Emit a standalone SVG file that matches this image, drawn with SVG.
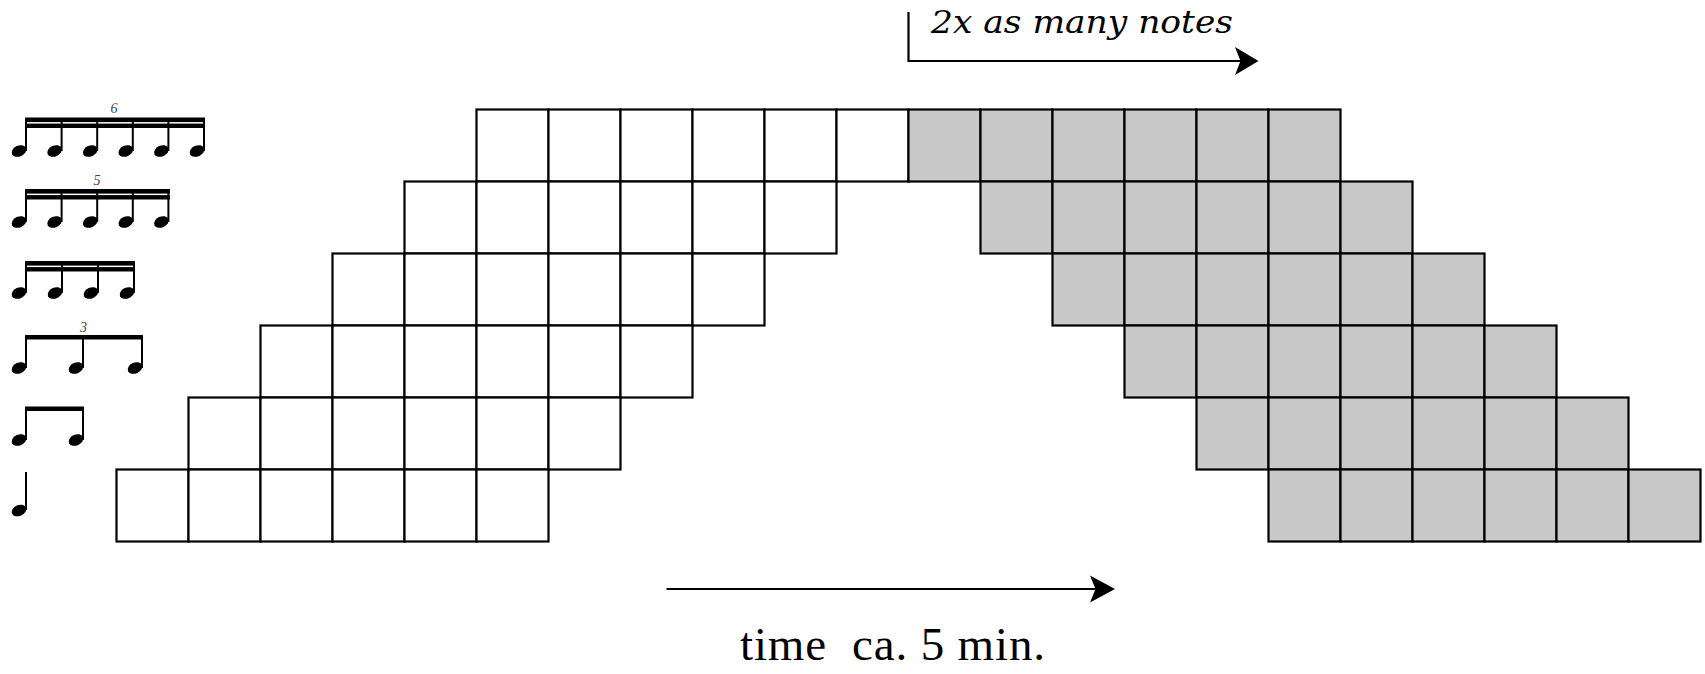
<svg xmlns="http://www.w3.org/2000/svg" width="1705" height="674" viewBox="0 0 1705 674">
<style>
.w{fill:#ffffff;stroke:#000;stroke-width:2.2}
.g{fill:#c8c8c8;stroke:#000;stroke-width:2.2}
.st{stroke:#000;stroke-width:2;fill:none}
.bm{fill:#000}
.hd{fill:#000}
.num{font-family:'Liberation Serif','Times New Roman',serif;font-style:italic;font-size:14px;fill:#444;text-anchor:middle}
.ln{stroke:#000;stroke-width:2.2;fill:none}
.ah{fill:#000}
.lbl{font-family:'Liberation Serif','Times New Roman',serif;fill:#000}
.lbi{font-family:'DejaVu Serif','Liberation Serif',serif;font-style:italic;fill:#000}
</style>
<defs>
<ellipse id="h" rx="7.6" ry="5.4" transform="rotate(-25)"/>
</defs>
<rect width="1705" height="674" fill="#fff"/>

<g id="note-sextuplet">
<rect class="bm" x="25" y="117.5" width="180" height="4.6"/>
<rect class="bm" x="25" y="123.6" width="180" height="4.4"/>
<path class="st" d="M26 118V151M61.6 118V151M97.2 118V151M132.8 118V151M168.4 118V151M204 118V151"/>
<g class="hd"><use href="#h" x="19" y="151"/><use href="#h" x="54.6" y="151"/><use href="#h" x="90.2" y="151"/><use href="#h" x="125.8" y="151"/><use href="#h" x="161.4" y="151"/><use href="#h" x="197" y="151"/></g>
<text class="num" x="114" y="113">6</text>
</g>

<g id="note-quintuplet">
<rect class="bm" x="25" y="189" width="145" height="4.6"/>
<rect class="bm" x="25" y="195.1" width="145" height="4.4"/>
<path class="st" d="M26 189.5V222M61.6 189.5V222M97.2 189.5V222M132.8 189.5V222M168.4 189.5V222"/>
<g class="hd"><use href="#h" x="19" y="222"/><use href="#h" x="54.6" y="222"/><use href="#h" x="90.2" y="222"/><use href="#h" x="125.8" y="222"/><use href="#h" x="161.4" y="222"/></g>
<text class="num" x="97" y="185">5</text>
</g>

<g id="note-sixteenths">
<rect class="bm" x="25" y="261" width="110" height="4.6"/>
<rect class="bm" x="25" y="267.1" width="110" height="4.4"/>
<path class="st" d="M26 261.5V293M62 261.5V293M98 261.5V293M134 261.5V293"/>
<g class="hd"><use href="#h" x="19" y="293"/><use href="#h" x="55" y="293"/><use href="#h" x="91" y="293"/><use href="#h" x="127" y="293"/></g>
</g>

<g id="note-triplet">
<rect class="bm" x="25" y="335" width="118" height="4.5"/>
<path class="st" d="M26 335.5V368M83 335.5V368M142 335.5V368"/>
<g class="hd"><use href="#h" x="19" y="368"/><use href="#h" x="76" y="368"/><use href="#h" x="135" y="368"/></g>
<text class="num" x="83.5" y="331.5">3</text>
</g>

<g id="note-eighths">
<rect class="bm" x="25" y="406.5" width="59" height="4.5"/>
<path class="st" d="M26 407V440M83 407V440"/>
<g class="hd"><use href="#h" x="19" y="440"/><use href="#h" x="76" y="440"/></g>
</g>

<g id="note-quarter">
<path class="st" d="M26 472V510"/>
<use class="hd" href="#h" x="19" y="510.5"/>
</g>

<g id="row-6">
<rect class="w" x="476.5" y="109.5" width="72" height="72"/><rect class="w" x="548.5" y="109.5" width="72" height="72"/><rect class="w" x="620.5" y="109.5" width="72" height="72"/><rect class="w" x="692.5" y="109.5" width="72" height="72"/><rect class="w" x="764.5" y="109.5" width="72" height="72"/><rect class="w" x="836.5" y="109.5" width="72" height="72"/>
<rect class="g" x="908.5" y="109.5" width="72" height="72"/><rect class="g" x="980.5" y="109.5" width="72" height="72"/><rect class="g" x="1052.5" y="109.5" width="72" height="72"/><rect class="g" x="1124.5" y="109.5" width="72" height="72"/><rect class="g" x="1196.5" y="109.5" width="72" height="72"/><rect class="g" x="1268.5" y="109.5" width="72" height="72"/>
</g>
<g id="row-5">
<rect class="w" x="404.5" y="181.5" width="72" height="72"/><rect class="w" x="476.5" y="181.5" width="72" height="72"/><rect class="w" x="548.5" y="181.5" width="72" height="72"/><rect class="w" x="620.5" y="181.5" width="72" height="72"/><rect class="w" x="692.5" y="181.5" width="72" height="72"/><rect class="w" x="764.5" y="181.5" width="72" height="72"/>
<rect class="g" x="980.5" y="181.5" width="72" height="72"/><rect class="g" x="1052.5" y="181.5" width="72" height="72"/><rect class="g" x="1124.5" y="181.5" width="72" height="72"/><rect class="g" x="1196.5" y="181.5" width="72" height="72"/><rect class="g" x="1268.5" y="181.5" width="72" height="72"/><rect class="g" x="1340.5" y="181.5" width="72" height="72"/>
</g>
<g id="row-4">
<rect class="w" x="332.5" y="253.5" width="72" height="72"/><rect class="w" x="404.5" y="253.5" width="72" height="72"/><rect class="w" x="476.5" y="253.5" width="72" height="72"/><rect class="w" x="548.5" y="253.5" width="72" height="72"/><rect class="w" x="620.5" y="253.5" width="72" height="72"/><rect class="w" x="692.5" y="253.5" width="72" height="72"/>
<rect class="g" x="1052.5" y="253.5" width="72" height="72"/><rect class="g" x="1124.5" y="253.5" width="72" height="72"/><rect class="g" x="1196.5" y="253.5" width="72" height="72"/><rect class="g" x="1268.5" y="253.5" width="72" height="72"/><rect class="g" x="1340.5" y="253.5" width="72" height="72"/><rect class="g" x="1412.5" y="253.5" width="72" height="72"/>
</g>
<g id="row-3">
<rect class="w" x="260.5" y="325.5" width="72" height="72"/><rect class="w" x="332.5" y="325.5" width="72" height="72"/><rect class="w" x="404.5" y="325.5" width="72" height="72"/><rect class="w" x="476.5" y="325.5" width="72" height="72"/><rect class="w" x="548.5" y="325.5" width="72" height="72"/><rect class="w" x="620.5" y="325.5" width="72" height="72"/>
<rect class="g" x="1124.5" y="325.5" width="72" height="72"/><rect class="g" x="1196.5" y="325.5" width="72" height="72"/><rect class="g" x="1268.5" y="325.5" width="72" height="72"/><rect class="g" x="1340.5" y="325.5" width="72" height="72"/><rect class="g" x="1412.5" y="325.5" width="72" height="72"/><rect class="g" x="1484.5" y="325.5" width="72" height="72"/>
</g>
<g id="row-2">
<rect class="w" x="188.5" y="397.5" width="72" height="72"/><rect class="w" x="260.5" y="397.5" width="72" height="72"/><rect class="w" x="332.5" y="397.5" width="72" height="72"/><rect class="w" x="404.5" y="397.5" width="72" height="72"/><rect class="w" x="476.5" y="397.5" width="72" height="72"/><rect class="w" x="548.5" y="397.5" width="72" height="72"/>
<rect class="g" x="1196.5" y="397.5" width="72" height="72"/><rect class="g" x="1268.5" y="397.5" width="72" height="72"/><rect class="g" x="1340.5" y="397.5" width="72" height="72"/><rect class="g" x="1412.5" y="397.5" width="72" height="72"/><rect class="g" x="1484.5" y="397.5" width="72" height="72"/><rect class="g" x="1556.5" y="397.5" width="72" height="72"/>
</g>
<g id="row-1">
<rect class="w" x="116.5" y="469.5" width="72" height="72"/><rect class="w" x="188.5" y="469.5" width="72" height="72"/><rect class="w" x="260.5" y="469.5" width="72" height="72"/><rect class="w" x="332.5" y="469.5" width="72" height="72"/><rect class="w" x="404.5" y="469.5" width="72" height="72"/><rect class="w" x="476.5" y="469.5" width="72" height="72"/>
<rect class="g" x="1268.5" y="469.5" width="72" height="72"/><rect class="g" x="1340.5" y="469.5" width="72" height="72"/><rect class="g" x="1412.5" y="469.5" width="72" height="72"/><rect class="g" x="1484.5" y="469.5" width="72" height="72"/><rect class="g" x="1556.5" y="469.5" width="72" height="72"/><rect class="g" x="1628.5" y="469.5" width="72" height="72"/>
</g>

<g id="connectors">
<path class="ln" d="M908.5 12V61H1242"/>
<path class="ah" d="M1258.5 61L1235 47L1240.5 61L1235 75Z"/>
<path class="ln" d="M666.5 589H1096"/>
<path class="ah" d="M1115 589L1090 575.5L1095.5 589L1090 602.5Z"/>
</g>

<g id="labels">
<text class="lbi" x="931" y="33" font-size="31" textLength="302" lengthAdjust="spacingAndGlyphs">2x as many notes</text>
<text class="lbl" x="740" y="660" font-size="47" textLength="305" lengthAdjust="spacing" xml:space="preserve">time  ca. 5 min.</text>
</g>
</svg>
